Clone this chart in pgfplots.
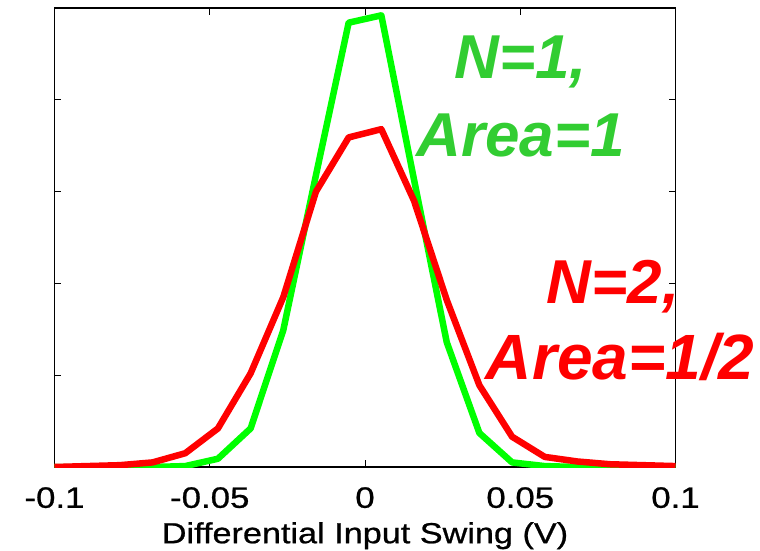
\documentclass[border=0pt]{standalone}
\usepackage{fontspec}
\setmainfont{Liberation Sans}
\newfontfamily\widefont[FakeStretch=1.18,FakeBold=0.8]{Liberation Sans}
\usepackage{pgfplots}
\pgfplotsset{compat=1.18}
\definecolor{linegreen}{RGB}{0,255,0}
\definecolor{labelgreen}{RGB}{50,205,50}
\definecolor{linered}{RGB}{255,0,0}

\begin{document}
\begin{tikzpicture}
\path[use as bounding box] (-54.5pt,-84pt) rectangle (705.5pt,467pt);
\begin{axis}[
  at={(0pt,0pt)}, anchor=south west,
  scale only axis, width=621pt, height=459pt,
  xmin=-0.1, xmax=0.1, ymin=0, ymax=5,
  xtick={-0.1,-0.05,0,0.05,0.1},
  xticklabels={-0.1,-0.05,0,0.05,0.1},
  ytick={1,2,3,4}, yticklabels={},
  tick align=inside, major tick length=7pt,
  tick style={black, line width=0.8pt},
  axis line style={black, line width=1.2pt},
  xticklabel style={font=\widefont\fontsize{29.5}{29.5}\selectfont, inner sep=0pt, yshift=-20pt},
  xlabel={Differential Input Swing (V)},
  xlabel style={font=\widefont\fontsize{29}{29}\selectfont, inner sep=0pt,
    at={(axis description cs:0.5,0)}, anchor=north, yshift=-55pt},
]
% N=1
\addplot[linegreen, line width=6.5pt, line join=round] coordinates {
(-0.1,0)(-0.08947,0)(-0.07895,0)(-0.06842,0)(-0.05789,0.01)
(-0.04737,0.09)(-0.03684,0.42)(-0.02632,1.49)(-0.01579,3.18)(-0.00526,4.84)
(0.00526,4.92)(0.01579,3.13)(0.02632,1.36)(0.03684,0.37)(0.04737,0.05)
(0.05789,0.01)(0.06842,0)(0.07895,0)(0.08947,0)(0.1,0)
};
% N=2
\addplot[linered, line width=6.5pt, line join=round] coordinates {
(-0.1,0)(-0.08947,0.01)(-0.07895,0.02)(-0.06842,0.05)(-0.05789,0.15)
(-0.04737,0.42)(-0.03684,1.02)(-0.02632,1.85)(-0.01579,3.0)(-0.00526,3.59)
(0.00526,3.68)(0.01579,2.9)(0.02632,1.82)(0.03684,0.89)(0.04737,0.33)
(0.05789,0.11)(0.06842,0.06)(0.07895,0.03)(0.08947,0.02)(0.1,0.01)
};
\coordinate (g1) at (axis cs:0.0502,4.237);
\coordinate (g2) at (axis cs:0.0502,3.377);
\coordinate (r1) at (axis cs:0.0799,1.786);
\coordinate (r2) at (axis cs:0.0822,0.948);
\end{axis}
\tikzset{lbl/.style={anchor=base, inner sep=0pt, font=\fontsize{62}{62}\selectfont\bfseries\itshape}}
\node[lbl, text=labelgreen] at (g1) {N=1,};
\node[lbl, text=labelgreen] at (g2) {Area=1};
\node[lbl, text=linered] at (r1) {N=2,};
\node[lbl, text=linered, font=\fontsize{64}{64}\selectfont\bfseries\itshape] at (r2) {Area=1/2};
\end{tikzpicture}
\end{document}
